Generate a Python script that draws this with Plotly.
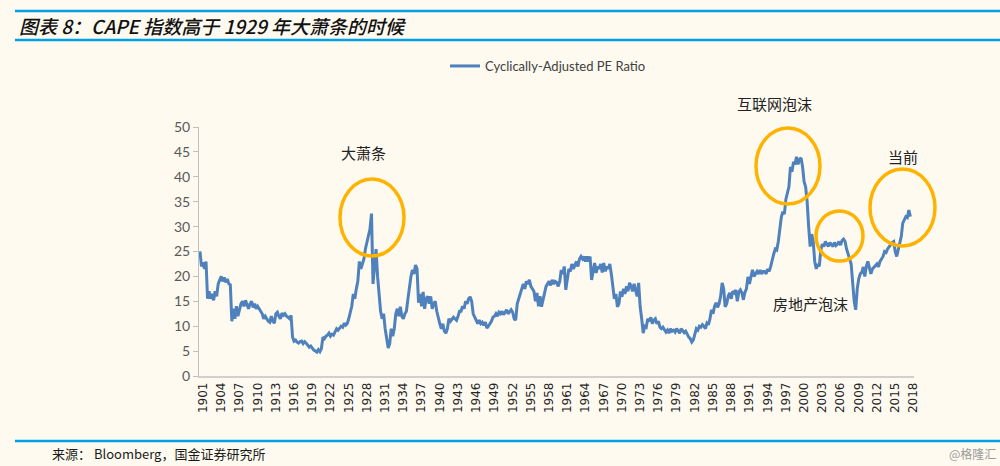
import plotly.graph_objs as go

# Shiller CAPE, quarterly readings (Q1..Q4 per year)
cape_1901_1920 = [
    25.0, 22.0, 22.8, 21.5,  23.0, 15.5, 17.0, 15.5,  16.5, 15.2, 17.0, 16.0,
    18.5, 19.5, 20.0, 19.0,  19.8, 18.8, 19.5, 18.5,  18.3, 11.0, 13.5, 11.5,
    14.0, 12.0, 13.5, 14.5,  15.0, 14.0, 15.2, 14.2,  13.5, 14.5, 15.0, 13.8,
    14.5, 13.5, 14.0, 13.5,  13.0, 12.5, 11.5, 12.0,  11.5, 11.0, 10.8, 12.0,
    11.0, 10.6, 12.5, 12.8,  12.0, 11.5, 12.6, 12.2,  12.5, 12.0, 11.8, 11.5,
    12.2, 7.8, 7.0, 7.2,  6.8, 6.6, 6.9, 7.0,  6.5, 6.9, 6.6, 6.2,
    5.8, 6.0, 5.5, 5.2,  5.0, 4.8, 5.3, 4.9,
]
cape_1921_1940 = [
    5.5, 7.8, 7.5, 8.0,  8.2, 8.6, 8.0, 8.4,  8.2, 9.0, 9.5, 9.2,
    9.5, 10.0, 9.8, 10.6,  10.2, 10.5, 11.5, 12.5,  14.0, 16.5, 15.5, 17.5,
    19.0, 23.0, 21.5, 22.5,  23.5, 25.5, 27.0, 28.5,  29.5, 32.6, 18.5, 22.0,
    25.5, 20.0, 16.0, 13.0,  11.5, 12.5, 9.5, 7.5,  5.6, 6.5, 9.5, 8.0,
    9.5, 12.5, 13.5, 12.0,  13.9, 12.0, 11.5, 12.5,  13.0, 15.5, 18.0, 20.0,
    21.3, 20.5, 22.3, 21.5,  14.7, 16.5, 14.0, 16.9,  13.5, 15.5, 16.0, 14.5,
    16.0, 13.5, 14.5, 15.0,  13.0, 11.5, 10.5, 9.5,
]
cape_1941_1960 = [
    10.5, 9.0, 8.6, 9.5,  11.5, 11.0, 11.5, 11.8,  11.5, 11.2, 12.0, 13.0,
    13.0, 14.0, 13.5, 15.0,  14.5, 15.5, 15.9, 15.0,  12.5, 11.8, 11.0, 10.5,
    11.2, 10.5, 10.8, 10.2,  10.8, 9.6, 10.0, 10.5,  11.0, 11.8, 12.0, 12.5,
    12.0, 12.8, 12.5, 13.0,  12.3, 12.8, 13.3, 12.5,  12.8, 13.3, 12.8, 11.5,
    11.2, 14.5, 15.5, 16.5,  17.0, 18.5, 17.5, 19.0,  18.5, 19.3, 18.0, 17.5,
    17.0, 15.0, 16.7, 14.0,  16.0, 13.9, 15.5, 17.0,  18.0, 18.5, 19.0, 18.2,
    19.3, 18.5, 19.0, 18.8,  18.0, 19.0, 21.3, 20.5,
]
cape_1961_1980 = [
    22.0, 17.3, 19.0, 21.5,  21.0, 22.5, 21.5, 22.5,  23.0, 22.0, 23.5, 24.0,
    23.5, 24.0, 23.0, 24.0,  23.0, 24.0, 19.3, 21.0,  22.7, 20.7, 22.0, 21.5,
    22.5, 20.8, 22.7, 21.0,  22.0, 21.5, 22.5, 20.5,  17.9, 15.5, 16.5, 13.9,
    14.5, 17.0, 15.9, 17.5,  16.5, 18.0, 17.0, 18.7,  18.0, 17.0, 18.5, 17.5,
    16.0, 18.7, 13.9, 11.5,  8.6, 10.0, 9.8, 11.5,  11.0, 11.8, 10.5, 11.2,
    11.5, 10.5, 11.0, 9.8,  9.5, 9.8, 9.2, 8.8,  9.2, 8.6, 9.5, 9.0,
    9.2, 8.8, 9.5, 8.9,  8.6, 9.5, 9.2, 8.7,
]
cape_1981_2000 = [
    9.0, 8.2, 7.8, 7.5,  6.8, 7.2, 8.5, 9.5,  9.2, 10.0, 9.8, 10.3,
    10.0, 9.5, 10.6, 10.3,  11.5, 13.3, 12.5, 14.0,  14.7, 13.8, 14.5, 16.0,
    18.7, 17.5, 13.9, 14.5,  16.0, 16.7, 15.5, 17.0,  16.7, 17.3, 15.0, 16.9,
    17.3, 16.7, 15.3, 16.8,  17.5, 19.9, 18.5, 20.0,  21.3, 20.0, 20.5, 21.0,
    20.5, 21.3, 20.5, 21.0,  21.0, 20.5, 21.5, 21.0,  22.0, 23.5, 24.5, 25.5,
    25.3, 27.0, 29.5, 31.9,  33.0, 32.5, 35.5, 36.7,  38.0, 42.0, 41.0, 43.0,
    42.5, 44.0, 42.5, 43.5,  43.8, 42.0, 39.0, 38.0,
]
cape_2001_2018 = [
    35.0, 30.0, 26.0, 28.5,  27.0, 23.0, 21.5, 22.5,  22.0, 25.3, 26.5, 26.0,
    27.0, 26.5, 26.0, 26.8,  26.5, 26.0, 26.8, 26.2,  26.5, 27.0, 26.3, 27.2,
    27.5, 27.0, 25.5, 24.5,  24.0, 22.5, 18.7, 15.0,  13.3, 17.5, 19.5, 20.5,
    20.8, 21.9, 20.0, 22.0,  23.0, 22.0, 20.5, 21.5,  21.8, 22.0, 22.5, 21.9,
    23.0, 23.5, 24.0, 25.0,  24.8, 25.5, 26.0, 26.5,  26.8, 27.0, 25.0, 24.0,
    25.5, 26.5, 28.0, 30.7,  31.5, 32.0, 31.8, 33.3,  32.0,
]

cape = (cape_1901_1920 + cape_1921_1940 + cape_1941_1960
        + cape_1961_1980 + cape_1981_2000 + cape_2001_2018)
years = [1901 + i / 4 for i in range(len(cape))]
tick_years = list(range(1901, 2019, 3))

# plot area in pixels, used to place the decorations
PL, PR, PT, PB = 199, 914, 127, 376


def px(x):
    return (x - PL) / (PR - PL)


def py(y):
    return (PB - y) / (PB - PT)


BG = '#fefaf0'
CJK = 'Noto Sans CJK SC'

trace = go.Scatter(x=years, y=cape, mode='lines', name='Cyclically-Adjusted PE Ratio',
                   line=dict(color='#4f81bd', width=3))

# annotation labels and the orange highlight rings
notes = [('大萧条', 363, 152), ('互联网泡沫', 774, 104), ('当前', 903, 156), ('房地产泡沫', 810, 303)]
rings = [(340, 179, 404, 256), (756, 128, 820, 204), (816, 211, 863, 261), (870, 169, 935, 246)]

annotations = [dict(text=t, x=px(x), y=py(y), xref='paper', yref='paper', showarrow=False,
                    xanchor='center', yanchor='middle',
                    font=dict(family=CJK, size=15, color='#222222'))
               for t, x, y in notes]
annotations += [
    dict(text='图表 8：CAPE 指数高于 1929 年大萧条的时候', x=px(17), y=py(25), xanchor='left',
         yanchor='middle', xref='paper', yref='paper', showarrow=False,
         font=dict(family=CJK, size=19, color='#111111', style='italic', weight=500)),
    dict(text='来源： Bloomberg，国金证券研究所', x=px(50), y=py(453), xanchor='left',
         yanchor='middle', xref='paper', yref='paper', showarrow=False,
         font=dict(family=CJK, size=13, color='#1a1a1a')),
    dict(text='@格隆汇', x=px(998), y=py(453), xanchor='right', yanchor='middle',
         xref='paper', yref='paper', showarrow=False,
         font=dict(family=CJK, size=12, color='#9a9a9a')),
]

shapes = [dict(type='circle', xref='paper', yref='paper', x0=px(a), x1=px(c), y0=py(d), y1=py(b),
               line=dict(color='#ffb300', width=3.5))
          for a, b, c, d in rings]
for yy in (11, 40, 441):
    shapes.append(dict(type='line', xref='paper', yref='paper', x0=px(15), x1=px(1000),
                       y0=py(yy), y1=py(yy), line=dict(color='#00a0e9', width=2.5)))

layout = go.Layout(
    width=1000, height=466,
    margin=dict(l=PL, r=1000 - PR, t=PT, b=466 - PB),
    paper_bgcolor=BG, plot_bgcolor=BG,
    showlegend=True,
    legend=dict(orientation='h', x=px(445), y=py(66), xanchor='left', yanchor='middle',
                bgcolor='rgba(0,0,0,0)', font=dict(family='Lato', size=13, color='#404040')),
    xaxis=dict(range=[1900.84, 2018.6], tickvals=[y + 0.5 for y in tick_years],
               ticktext=[str(y) for y in tick_years], tickangle=-90,
               tickfont=dict(family='DejaVu Sans', size=12, color='#262626'),
               showline=True, linecolor='#d0d0d0', linewidth=1.5, showgrid=False,
               zeroline=False, ticks=''),
    yaxis=dict(range=[0, 50], dtick=5, tickfont=dict(family='Lato', size=14, color='#595959'),
               showline=True, linecolor='#bfbfbf', linewidth=1, ticks='outside', ticklen=5,
               tickcolor='#bfbfbf', showgrid=False, zeroline=False),
    annotations=annotations,
    shapes=shapes,
)

fig = go.Figure(data=[trace], layout=layout)
# drop the page's default body margin so the figure sits at the window's corner
fig.write_html('out.html', config={'displayModeBar': False},
               post_script="document.body.style.margin='0px';")
